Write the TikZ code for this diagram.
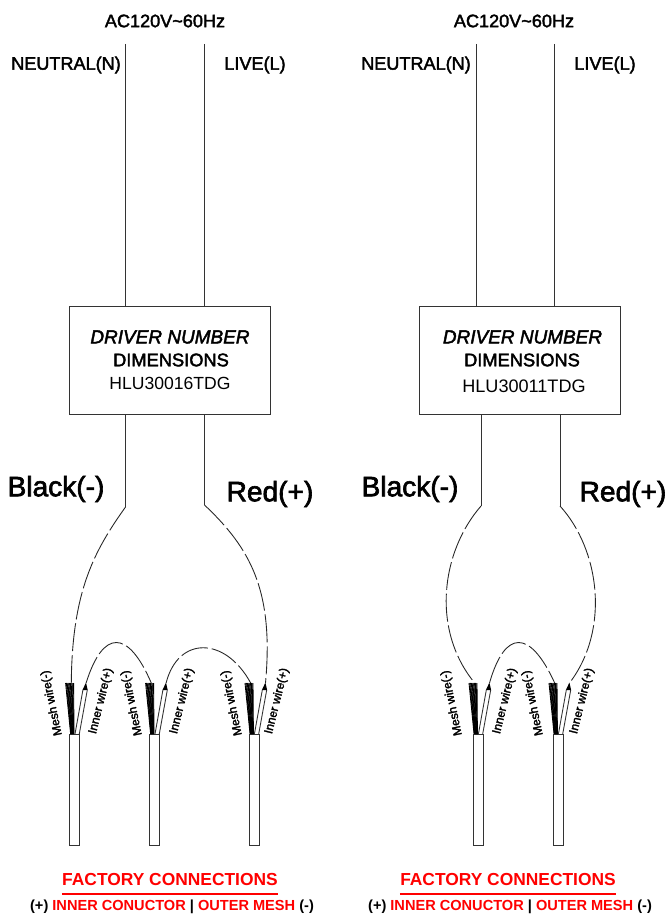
\documentclass[tikz,border=0pt]{standalone}
\usepackage{fontspec}
\setmainfont{Liberation Sans}
\newfontfamily\heavyfont[FakeBold=2.2]{Liberation Sans}
\usetikzlibrary{calc}
\definecolor{ffqqqq}{rgb}{1.,0.,0.}
\tikzset{
  wire/.style={line width=.5pt,color=black!80},
  dashwire/.style={line width=.5pt,color=black!85,dash pattern=on 16pt off 2.2pt},
  lbl/.style={inner sep=0pt,font=\heavyfont\fontsize{10.3}{12}\selectfont},
  biglbl/.style={inner sep=0pt,font=\heavyfont\fontsize{16}{18}\selectfont},
  drvbox/.style={draw=black!80,line width=.5pt,minimum width=201*.02cm,minimum height=108*.02cm,inner sep=0pt},
  cable/.style={draw=black!80,line width=.5pt,minimum width=10*.02cm,minimum height=111*.02cm,inner sep=0pt,anchor=north west},
  tinylbl/.style={inner sep=0pt,font=\heavyfont\fontsize{6.8}{8}\selectfont},
  redhead/.style={inner sep=0pt,text=ffqqqq,font=\bfseries\fontsize{9.9}{12}\selectfont},
  redline/.style={inner sep=0pt,font=\bfseries\fontsize{8.3}{10}\selectfont}
}
\newcommand{\factline}{(+) \textcolor{ffqqqq}{INNER CONUCTOR} | \textcolor{ffqqqq}{OUTER MESH} (-)}
\begin{document}
\begin{tikzpicture}[line cap=butt,line join=miter,x=.02cm,y=-.02cm]
  \useasboundingbox (0,0) rectangle (667,918);
  % mains labels
  \node [lbl] (acA) at (165,21) {AC120V\textasciitilde60Hz};
  \node [lbl] (acB) at (514,21) {AC120V\textasciitilde60Hz};
  \node [lbl] (neuA) at (66,65) {NEUTRAL(N)};
  \node [lbl] (livA) at (255,65) {LIVE(L)};
  \node [lbl] (neuB) at (416,65) {NEUTRAL(N)};
  \node [lbl] (livB) at (605,65) {LIVE(L)};
  % drivers
  \node [drvbox] (drvA) at (169.5,360) {};
  \node [drvbox] (drvB) at (519.5,360) {};
  \node [lbl,font=\heavyfont\itshape\fontsize{10.8}{13}\selectfont] (ttlA) at (170,337) {DRIVER NUMBER};
  \node [lbl,font=\heavyfont\fontsize{10.4}{13}\selectfont] (dimA) at (171,360) {DIMENSIONS};
  \node [lbl,font=\fontsize{10}{13}\selectfont] (hluA) at (170,383) {HLU30016TDG};
  \node [lbl,font=\heavyfont\itshape\fontsize{10.8}{13}\selectfont] (ttlB) at (522.5,337) {DRIVER NUMBER};
  \node [lbl,font=\heavyfont\fontsize{10.4}{13}\selectfont] (dimB) at (522,360) {DIMENSIONS};
  \node [lbl,font=\fontsize{10.3}{13}\selectfont] (hluB) at (524,386) {HLU30011TDG};
  % supply wires
  \coordinate (nA) at (125,44);
  \coordinate (lA) at (204.5,44);
  \coordinate (nB) at (476,44);
  \coordinate (lB) at (554.5,44);
  \draw [wire] (nA) -- (nA |- drvA.north);
  \draw [wire] (lA) -- (lA |- drvA.north);
  \draw [wire] (nB) -- (nB |- drvB.north);
  \draw [wire] (lB) -- (lB |- drvB.north);
  % output wires
  \coordinate (blkA) at (125.5,507);
  \coordinate (redA) at (204.5,505);
  \coordinate (blkB) at (481,506);
  \coordinate (redB) at (560,506);
  \draw [wire] (blkA |- drvA.south) -- (blkA);
  \draw [wire] (redA |- drvA.south) -- (redA);
  \draw [wire] (blkB |- drvB.south) -- (blkB);
  \draw [wire] (redB |- drvB.south) -- (redB);
  \node [biglbl] (blackA) at (56,489) {Black(-)};
  \node [biglbl] (redlA) at (270,494) {Red(+)};
  \node [biglbl] (blackB) at (410,489) {Black(-)};
  \node [biglbl] (redlB) at (623,494) {Red(+)};
  % cables
  \foreach \n/\cx/\mx/\ix in {a/69.3/52/101,b/149.3/132/182,c/248.7/232/277,d/472.7/452/505,e/552.7/533/582}{
    \node [cable] (cab\n) at (\cx,734) {};
    \coordinate (msh\n) at (\cx+2,683);
    \coordinate (inn\n) at (\cx+16.8,683);
    \foreach \t in {-3.7,-2.9,...,5}{
      \draw [line width=.5pt] (\cx+2.9+.42*\t,734) -- (\cx+\t,683);
    }
    \draw [wire] (\cx+5.7,734) -- (\cx+13.6,690);
    \draw [wire] (\cx+10,734) -- (\cx+18,690);
    \fill (\cx+13.2,690) -- (\cx+16.7,682.5) -- (\cx+18.4,690) -- cycle;
    \node [tinylbl,rotate=102] (mlb\n) at (\mx,703) {Mesh wire(-)};
    \node [tinylbl,rotate=76] (ilb\n) at (\ix,701) {Inner wire(+)};
  }
  % dashed runs
  \draw [dashwire] (blkA) .. controls (95,550) and (72,590) .. (msha);
  \draw [dashwire] (redA) .. controls (250,548) and (274,590) .. (innc);
  \draw [dashwire] (inna) .. controls (103,629) and (128,629) .. (mshb);
  \draw [dashwire] (innb) .. controls (178,636) and (225,636) .. (mshc);
  \draw [dashwire] (blkB) .. controls (441,552) and (431,630) .. (mshd);
  \draw [dashwire] (redB) .. controls (600,550) and (610,630) .. (inne);
  \draw [dashwire] (innd) .. controls (505,629) and (530,629) .. (mshe);
  % factory notes
  \node [redhead] (facA) at (170,880) {FACTORY CONNECTIONS};
  \node [redhead] (facB) at (508,880) {FACTORY CONNECTIONS};
  \draw [ffqqqq,line width=1.5pt] (facA.west |- 0,894) -- (facA.east |- 0,894);
  \draw [ffqqqq,line width=1.5pt] (facB.west |- 0,894) -- (facB.east |- 0,894);
  \node [redline] (notA) at (172,907) {\factline};
  \node [redline] (notB) at (510,907) {\factline};
\end{tikzpicture}
\end{document}
